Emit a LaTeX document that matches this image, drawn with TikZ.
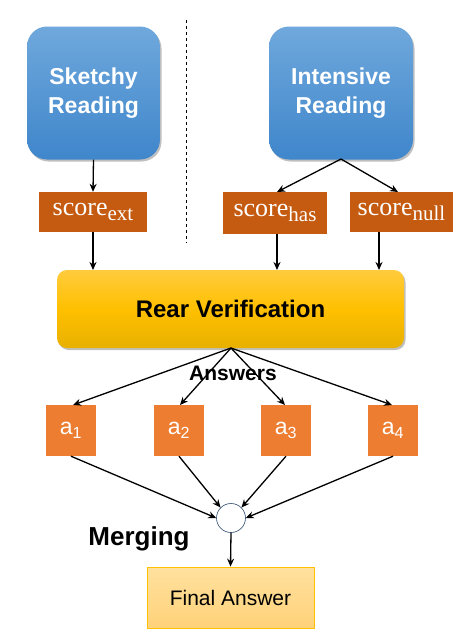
\documentclass[tikz,border=0pt]{standalone}
\usepackage{fontspec}
\setmainfont{Liberation Sans}
\newfontfamily\scorefont{Liberation Serif}
\usetikzlibrary{shadows,arrows.meta}
\definecolor{blueT}{HTML}{6FA8DC}
\definecolor{blueB}{HTML}{3F86CB}
\definecolor{scoreC}{HTML}{C55A11}
\definecolor{ansC}{HTML}{ED7D31}
\definecolor{yelT}{HTML}{FFCB3D}
\definecolor{yelM}{HTML}{FFC000}
\definecolor{yelB}{HTML}{E8B000}
\definecolor{finT}{HTML}{FFE19E}
\definecolor{finB}{HTML}{FFD27A}
\definecolor{circC}{HTML}{2F4A6E}
\newcommand{\scoretxt}[1]{{\scorefont score\raisebox{-5pt}{\fontsize{21}{22}\selectfont #1}}}
\begin{document}
\begin{tikzpicture}[x=1pt,y=-1pt,
  readbox/.style={rounded corners=20pt,top color=blueT,bottom color=blueB,draw=none,
    drop shadow={shadow xshift=1.5pt,shadow yshift=-2pt,opacity=0.25,fill=black},
    text=white,font=\fontsize{23}{29}\selectfont\bfseries,align=center},
  scorebox/.style={fill=scoreC,text=white,font=\fontsize{26}{28}\selectfont,inner sep=0pt},
  ansbox/.style={fill=ansC,text=white,font=\fontsize{23}{26}\selectfont},
  arr/.style={-{Stealth[length=8pt,width=7pt]},line width=1.3pt},
  ln/.style={line width=1.3pt}]
\useasboundingbox (0,0) rectangle (466,638);
% reading boxes
\node[readbox,minimum width=133pt,minimum height=133pt] (sk) at (93.5,93) {Sketchy\\Reading};
\node[readbox,minimum width=144pt,minimum height=133pt] (in) at (341,93) {Intensive\\Reading};
\draw[dashed,line width=0.7pt] (186,20) -- (186,243);
% score boxes
\node[scorebox,minimum width=108pt,minimum height=40pt] (se) at (93,212) {\scoretxt{ext}};
\node[scorebox,minimum width=104pt,minimum height=42pt] (sh) at (275,213) {\scoretxt{has}};
\node[scorebox,minimum width=103pt,minimum height=40pt] (sn) at (401.5,212) {\scoretxt{null}};
% rear verification
\node[rounded corners=10pt,minimum width=347pt,minimum height=78pt,
  top color=yelT,bottom color=yelB,middle color=yelM,draw=none,
  drop shadow={shadow xshift=1.5pt,shadow yshift=-2pt,opacity=0.25,fill=black},
  font=\fontsize{24}{26}\selectfont\bfseries] (rv) at (230.5,309) {Rear Verification};
\coordinate (ib) at (341,159);
\draw[arr] (sk.south) -- (se.north);
\draw[arr] (ib) -- (277,192);
\draw[arr] (ib) -- (398,192);
\draw[arr] (93,232) -- (93,270);
\draw[arr] (277,234) -- (277,270);
\draw[arr] (379,232) -- (379,270);
% answers
\node[ansbox,minimum width=50pt,minimum height=51pt] (a1) at (71,430.5) {a\textsubscript{1}};
\node[ansbox,minimum width=50pt,minimum height=51pt] (a2) at (179,430.5) {a\textsubscript{2}};
\node[ansbox,minimum width=50pt,minimum height=51pt] (a3) at (286,430.5) {a\textsubscript{3}};
\node[ansbox,minimum width=50pt,minimum height=51pt] (a4) at (393,430.5) {a\textsubscript{4}};
\coordinate (rb) at (231,348);
\draw[arr] (rb) -- (73,405);
\draw[arr] (rb) -- (180,405);
\draw[arr] (rb) -- (285,405);
\draw[arr] (rb) -- (392,405);
\node[font=\fontsize{21}{24}\selectfont\bfseries] (answ) at (233,373) {Answers};
% merging
\node[circle,draw=circC,line width=0.6pt,fill=white,minimum size=29pt,inner sep=0pt] (mc) at (231,518) {};
\draw[arr] (a1.south) -- (mc.west);
\draw[arr] (a2.south) -- (mc.north west);
\draw[arr] (a3.south) -- (mc.north east);
\draw[arr] (a4.south) -- (mc.east);
\node[font=\fontsize{26}{30}\selectfont\bfseries] (mg) at (139,539) {Merging};
\node[top color=finT,bottom color=finB,draw=yelM,line width=0.8pt,
  minimum width=167pt,minimum height=61pt,font=\fontsize{21}{24}\selectfont] (fa) at (230.5,597.5) {Final Answer};
\draw[arr] (mc.south) -- (fa.north);
\end{tikzpicture}
\end{document}
